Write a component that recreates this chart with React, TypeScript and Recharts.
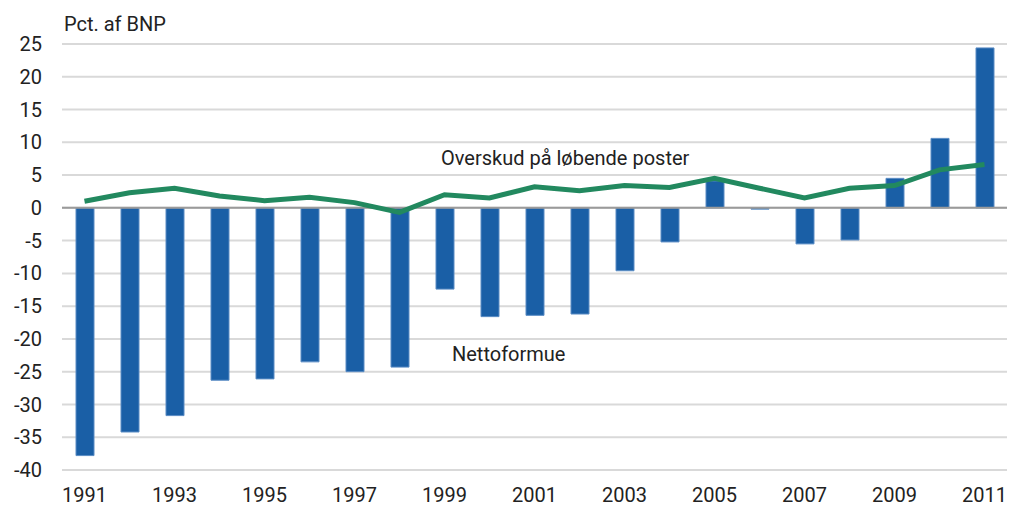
import React from 'react';
import { ComposedChart, Bar, Line, XAxis, YAxis, CartesianGrid, ReferenceLine } from 'recharts';

const years = [
  '1991', '1992', '1993', '1994', '1995', '1996', '1997', '1998', '1999', '2000', '2001',
  '2002', '2003', '2004', '2005', '2006', '2007', '2008', '2009', '2010', '2011'
];

// Nettoformue (bars)
const netWorth = [
  -37.8, -34.2, -31.7, -26.3, -26.1, -23.5, -25.0, -24.3, -12.4, -16.6, -16.4,
  -16.2, -9.6, -5.2, 4.1, -0.2, -5.5, -4.9, 4.5, 10.6, 24.4
];

// Overskud på løbende poster (line)
const currentAccount = [
  1.0, 2.3, 3.0, 1.8, 1.1, 1.6, 0.8, -0.7, 2.0, 1.5, 3.2,
  2.6, 3.4, 3.1, 4.5, 3.0, 1.5, 3.0, 3.4, 5.8, 6.6
];

const yTicks = [-40, -35, -30, -25, -20, -15, -10, -5, 0, 5, 10, 15, 20, 25];

const data = years.map((year, i) => ({
  year,
  nettoformue: netWorth[i],
  overskud: currentAccount[i],
}));

const FONT = 'Roboto, "Open Sans", sans-serif';
const TEXT = '#222222';

const App: React.FC = () => {
  return (
    <div style={{ position: 'absolute', left: 0, top: 0, width: 1010, height: 506, background: '#fff', fontFamily: FONT }}>
      <ComposedChart
        width={1010}
        height={506}
        data={data}
        margin={{ top: 44, right: 3, bottom: 0, left: 0 }}
        barCategoryGap={0}
      >
        <CartesianGrid vertical={false} stroke="#d9d9d9" strokeWidth={2} />
        <XAxis
          dataKey="year"
          interval={1}
          axisLine={false}
          tickLine={false}
          tickSize={0}
          tickMargin={18}
          height={36}
          tick={{ fill: TEXT, fontSize: 20, fontFamily: FONT }}
        />
        <YAxis
          domain={[-40, 25]}
          ticks={yTicks}
          interval={0}
          axisLine={false}
          tickLine={false}
          tickSize={0}
          tickMargin={20}
          width={62}
          tick={{ fill: TEXT, fontSize: 20, fontFamily: FONT }}
        />
        <ReferenceLine y={0} stroke="#9a9a9a" strokeWidth={2} />
        <Bar
          dataKey="nettoformue"
          fill="#1a5fa6"
          stroke="#5a8cc4"
          strokeWidth={1}
          barSize={18}
          isAnimationActive={false}
        />
        <Line
          type="linear"
          dataKey="overskud"
          stroke="#22895f"
          strokeWidth={5}
          dot={false}
          activeDot={false}
          isAnimationActive={false}
        />
      </ComposedChart>
      <div style={{ position: 'absolute', left: 64, top: 12, fontSize: 20, color: TEXT, lineHeight: '24px' }}>
        Pct. af BNP
      </div>
      <div style={{ position: 'absolute', left: 441, top: 146, fontSize: 20, color: TEXT, lineHeight: '24px' }}>
        Overskud på løbende poster
      </div>
      <div style={{ position: 'absolute', left: 452, top: 342, fontSize: 20, color: TEXT, lineHeight: '24px' }}>
        Nettoformue
      </div>
    </div>
  );
};

export default App;
